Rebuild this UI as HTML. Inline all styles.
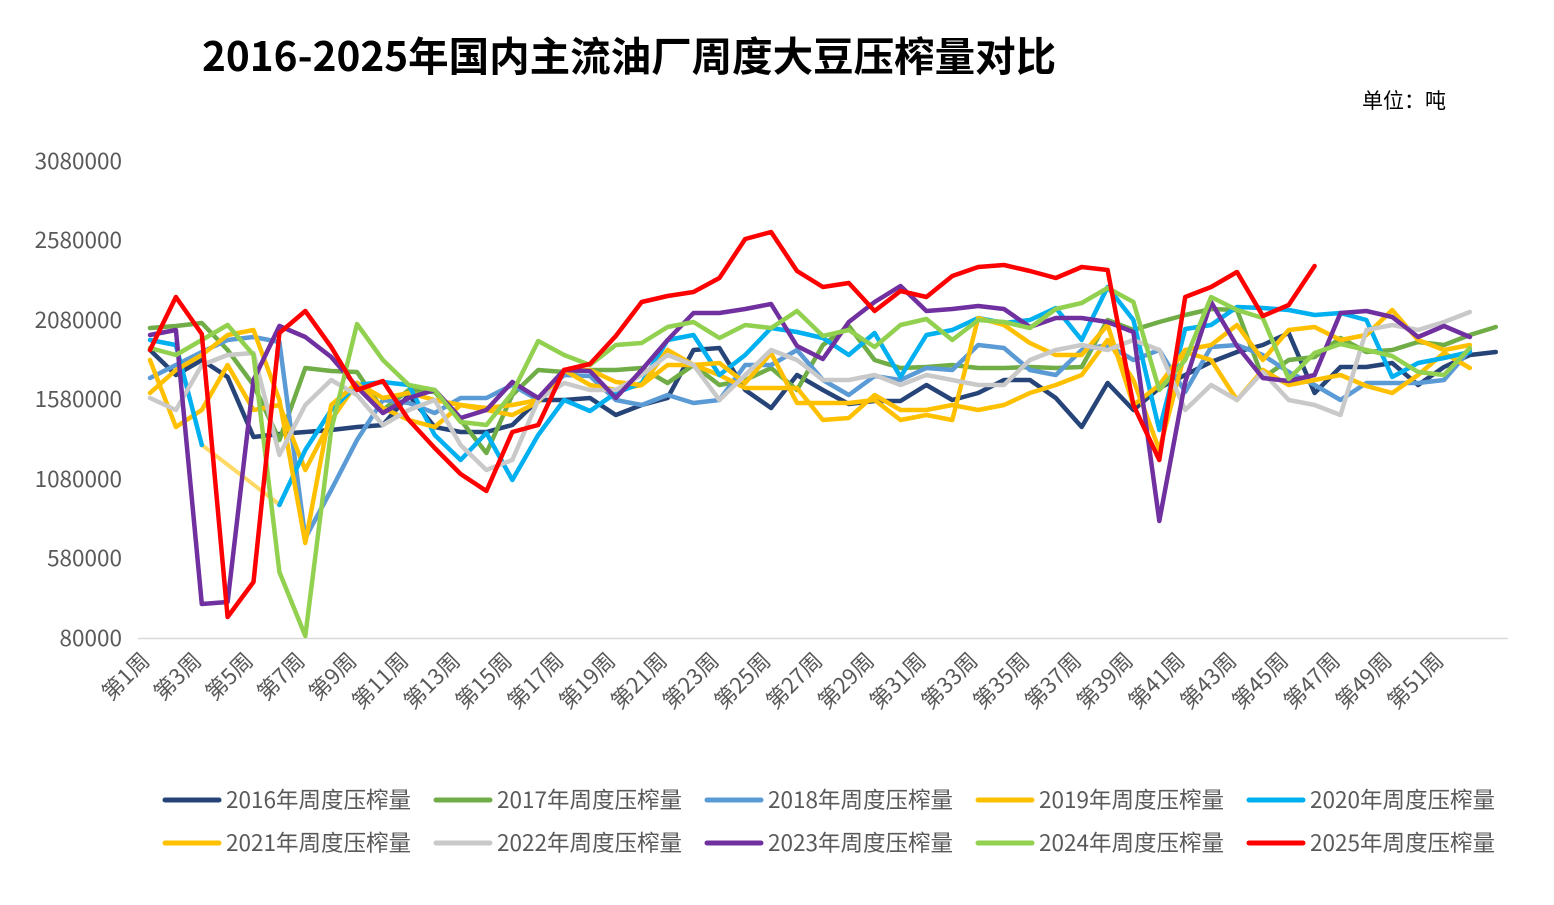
<!DOCTYPE html>
<html><head><meta charset="utf-8"><style>
body{margin:0;background:#fff;}
svg{display:block;font-family:"Noto Sans CJK SC","Liberation Sans",sans-serif;}
</style></head><body>
<svg id="s" width="1554" height="905" xmlns="http://www.w3.org/2000/svg">
<rect width="1554" height="905" fill="#fff"/>
<text x="202" y="71" font-size="40.5" font-weight="bold" fill="#000">2016-2025年国内主流油厂周度大豆压榨量对比</text>
<text x="1362" y="108" font-size="21" fill="#000">单位：吨</text>
<g font-size="22.5" fill="#595959" text-anchor="end">
<text x="122" y="169">3080000</text><text x="122" y="248">2580000</text><text x="122" y="328">2080000</text>
<text x="122" y="407">1580000</text><text x="122" y="487">1080000</text><text x="122" y="566">580000</text><text x="122" y="646">80000</text>
</g>
<line x1="138" y1="638.5" x2="1508" y2="638.5" stroke="#d9d9d9" stroke-width="1.5"/>
<g id="xl" font-size="22" fill="#595959" text-anchor="end"></g>
<g id="lines" fill="none" stroke-width="4.5" stroke-linejoin="round" stroke-linecap="round">
<polyline points="202,445 280,505" stroke="#FFD966" stroke-width="4"/>
</g>
<g id="leg" font-size="22.5" fill="#595959"></g>
</svg>
<script>
var ns="http://www.w3.org/2000/svg";
function X(i){return 150+(i-1)*25.88;}
var xl=document.getElementById('xl');
for(var w=1;w<=51;w+=2){var t=document.createElementNS(ns,'text');var x=X(w)+1,y=662;t.setAttribute('x',x);t.setAttribute('y',y);t.setAttribute('transform','rotate(-45 '+x+' '+y+')');t.textContent='第'+w+'周';xl.appendChild(t);}
var S=[
['#264478',[350,375,360,377,437,434,432,430,427,425,395,427,432,432,425,400,400,398,415,405,398,350,348,390,408,375,390,404,401,401,385,400,393,380,380,398,427,383,410,388,375,362,352,345,333,393,367,367,363,385,367,355,352],'2016'],
['#70AD47',[328,326,323,350,385,440,368,371,372,410,390,392,420,453,395,370,372,370,370,368,383,365,385,380,368,390,345,326,360,368,367,365,368,368,367,368,367,320,330,322,315,309,310,378,360,357,338,352,350,342,345,335,327],'2017'],
['#5B9BD5',[378,365,352,340,337,342,538,490,440,400,403,413,398,398,385,400,375,376,400,405,395,403,400,365,365,350,380,395,376,380,368,370,345,348,370,375,350,345,360,350,392,347,345,355,372,385,400,383,383,383,380,350],'2018'],
['#FFC000',[360,427,410,365,410,405,470,420,383,398,393,400,405,410,415,402,370,385,390,385,365,365,375,388,388,388,420,418,395,410,410,405,410,405,393,385,375,340,380,450,352,360,400,370,385,380,375,386,393,375,353,368],'2019'],
['#00B0F0',[340,345,445,null,null,505,450,410,385,382,385,435,460,433,480,435,400,411,393,383,340,335,375,355,328,332,338,355,333,377,335,330,318,323,320,308,340,287,320,430,329,325,307,308,310,315,313,320,377,363,358,352],'2020'],
['#FFC000',[393,370,355,335,330,400,543,405,383,408,420,427,405,408,405,400,370,370,382,385,350,365,363,383,353,403,403,403,400,420,415,420,318,325,343,355,355,325,405,385,350,345,325,360,330,327,340,335,310,340,350,345],'2021'],
['#C9C9C9',[398,410,365,355,353,455,405,380,395,425,410,400,445,470,460,400,383,390,390,375,355,365,400,375,350,360,380,380,375,385,375,380,385,385,360,350,345,350,340,350,410,385,400,372,400,405,415,330,325,330,322,312],'2022'],
['#7030A0',[335,330,604,602,380,326,337,357,387,413,398,390,418,410,382,398,370,371,398,370,340,313,313,309,304,346,359,322,302,286,311,309,306,309,327,318,318,322,332,521,382,302,346,378,381,375,313,311,317,337,326,337],'2023'],
['#92D050',[348,355,340,325,355,572,636,430,324,360,385,390,422,425,393,341,355,365,345,343,327,322,338,325,328,311,336,330,347,325,319,340,320,322,328,309,303,288,302,390,360,297,310,318,379,353,344,350,356,372,375,348],'2024'],
['#FF0000',[350,297,334,617,582,333,311,347,390,381,420,448,474,491,432,425,370,364,336,302,296,292,278,239,232,271,287,283,311,291,297,276,267,265,271,278,267,270,405,460,297,287,272,316,305,266],'2025']
];
var L=document.getElementById('lines');
S.forEach(function(s){var segs=[[]];s[1].forEach(function(v,i){if(v===null){segs.push([]);}else segs[segs.length-1].push(X(i+1).toFixed(1)+','+v);});
segs.forEach(function(g){if(g.length<2)return;var p=document.createElementNS(ns,'polyline');p.setAttribute('points',g.join(' '));p.setAttribute('stroke',s[0]);L.appendChild(p);});});
var G=document.getElementById('leg');
S.forEach(function(s,i){var c=i%5,r=Math.floor(i/5);var x=165+c*271,y=800+r*43;var l=document.createElementNS(ns,'line');l.setAttribute('x1',x);l.setAttribute('x2',x+54);l.setAttribute('y1',y);l.setAttribute('y2',y);l.setAttribute('stroke',s[0]);l.setAttribute('stroke-width',5);l.setAttribute('stroke-linecap','round');G.appendChild(l);var t=document.createElementNS(ns,'text');t.setAttribute('x',x+61);t.setAttribute('y',y+8);t.textContent=s[2]+'年周度压榨量';G.appendChild(t);});
</script>
</body></html>
